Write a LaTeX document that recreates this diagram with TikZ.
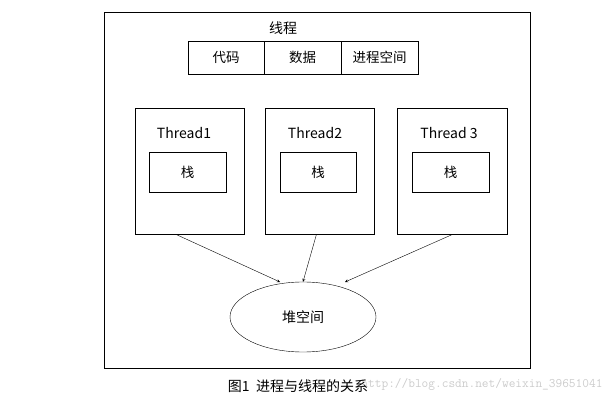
\documentclass[tikz,border=0pt]{standalone}
\usepackage{fontspec}
\setmainfont{Noto Sans CJK SC}
\usetikzlibrary{shapes.geometric,calc}
\tikzset{
  box/.style={draw,inner sep=0pt,anchor=north west},
  cell/.style={draw,minimum width=77pt,minimum height=33pt,inner sep=0pt,font=\fontsize{13.5}{15}\selectfont},
  lbl/.style={font=\fontsize{14}{16}\selectfont}
}
\begin{document}
\begin{tikzpicture}[x=1pt,y=-1pt,>=stealth]
\useasboundingbox (0,0) rectangle (616,404);
\draw (104,12) rectangle (530,368);
\node[lbl] (title) at (283,28) {线程};
\node[cell,minimum width=76pt] (code) at (226,57.5) {代码};
\node[cell] (data) at (302.5,57.5) {数据};
\node[cell] (space) at (379.5,57.5) {进程空间};
% threads
\node[draw,minimum width=109pt,minimum height=126pt] (t1) at (189.5,171) {};
\node[draw,minimum width=109pt,minimum height=126pt] (t2) at (319.5,171) {};
\node[draw,minimum width=110pt,minimum height=126pt] (t3) at (452,171) {};
\node[lbl] (n1) at (184,133) {Thread1};
\node[lbl] (n2) at (315,133) {Thread2};
\node[lbl] (n3) at (449,133) {Thread 3};
\node[cell,minimum width=77pt,minimum height=40pt] (s1) at (187.5,172) {栈};
\node[cell,minimum width=76pt,minimum height=40pt] (s2) at (318,172) {栈};
\node[cell,minimum width=77pt,minimum height=40pt] (s3) at (450.5,172) {栈};
\node[draw,ellipse,minimum width=146pt,minimum height=70pt,lbl] (heap) at (303,317) {堆空间};
\coordinate (a1) at ($(t1.south)+(-14,0)$);
\coordinate (a2) at ($(t2.south)+(-3,0)$);
\coordinate (a3) at ($(t3.south)+(1,0)$);
\coordinate (h1) at (280,282);
\coordinate (h3) at (345,282);
\draw[->] (a1) -- (h1);
\draw[->] (a2) -- (heap.north);
\draw[->] (a3) -- (h3);
\node[font=\fontsize{13}{15}\selectfont\ttfamily,text=gray!40,anchor=east] (mark) at (606,384) {http://blog.csdn.net/weixin\_39651041};
\node[font=\fontsize{14}{16}\selectfont] (cap) at (298,386) {图1\ \ 进程与线程的关系};
\end{tikzpicture}
\end{document}
